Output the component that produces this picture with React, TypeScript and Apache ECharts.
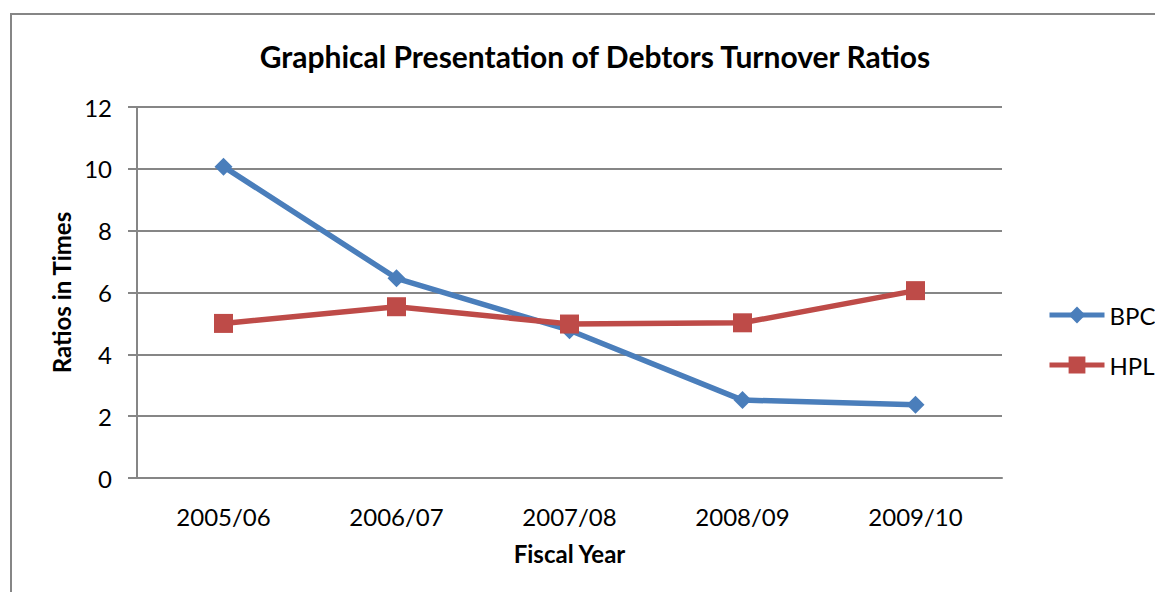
import React, { useEffect, useRef } from "react";
import * as echarts from "echarts";

const categories = ["2005/06", "2006/07", "2007/08", "2008/09", "2009/10"];
const bpc = [10.07, 6.46, 4.78, 2.52, 2.37];
const hpl = [5.0, 5.54, 4.98, 5.02, 6.06];
const yTicks = { min: 0, max: 12, interval: 2 };

const FONT = "Lato, 'Noto Sans', sans-serif";
const GRAY = "#868686";
const BLUE = "#4a7ebb";
const RED = "#be4b48";

export default function App() {
  const ref = useRef<HTMLDivElement>(null);
  useEffect(() => {
    if (!ref.current) return;
    const chart = echarts.init(ref.current, undefined, { renderer: "svg" });
    chart.setOption({
      animation: false,
      backgroundColor: "#ffffff",
      textStyle: { fontFamily: FONT },
      title: {
        text: "Graphical Presentation of Debtors Turnover Ratios",
        left: 590,
        top: 36,
        textAlign: "center",
        textStyle: { fontFamily: FONT, fontWeight: "bold", fontSize: 30, color: "#000" },
      },
      graphic: [
        {
          type: "rect",
          shape: { x: 11, y: 14, width: 1300, height: 800 },
          style: { fill: "none", stroke: GRAY, lineWidth: 2 },
          silent: true,
        },
      ],
      legend: {
        orient: "vertical",
        left: 1042,
        top: 298,
        itemWidth: 55,
        itemHeight: 21,
        itemGap: 26,
        textStyle: { fontFamily: FONT, fontSize: 24, color: "#000" },
        data: [
          { name: "BPC", lineStyle: { width: 5 } },
          { name: "HPL", lineStyle: { width: 5 } },
        ],
      },
      grid: { left: 137, right: 153, top: 107, bottom: 114, containLabel: false },
      xAxis: {
        type: "category",
        data: categories,
        boundaryGap: true,
        axisLine: { show: true, lineStyle: { color: GRAY, width: 2 } },
        axisTick: { show: false },
        axisLabel: { fontFamily: FONT, fontSize: 24, color: "#000", margin: 26 },
        name: "Fiscal Year",
        nameLocation: "middle",
        nameGap: 63,
        nameTextStyle: { fontFamily: FONT, fontWeight: "bold", fontSize: 24, color: "#000" },
      },
      yAxis: {
        type: "value",
        min: yTicks.min,
        max: yTicks.max,
        interval: yTicks.interval,
        axisLine: { show: true, lineStyle: { color: GRAY, width: 2 } },
        axisTick: { show: true, length: 9, lineStyle: { color: GRAY, width: 2 } },
        splitLine: { show: true, lineStyle: { color: GRAY, width: 2 } },
        axisLabel: { fontFamily: FONT, fontSize: 24, color: "#000", margin: 25 },
        name: "Ratios in Times",
        nameLocation: "middle",
        nameGap: 62,
        nameTextStyle: { fontFamily: FONT, fontWeight: "bold", fontSize: 24, color: "#000" },
      },
      series: [
        {
          name: "BPC",
          type: "line",
          data: bpc,
          symbol: "diamond",
          symbolSize: 18,
          lineStyle: { color: BLUE, width: 5.5 },
          itemStyle: { color: BLUE },
        },
        {
          name: "HPL",
          type: "line",
          data: hpl,
          symbol: "rect",
          symbolSize: 19,
          lineStyle: { color: RED, width: 5.5 },
          itemStyle: { color: RED },
        },
      ],
    });
    return () => chart.dispose();
  }, []);
  return (
    <div
      ref={ref}
      style={{ position: "fixed", left: 0, top: 0, width: 1155, height: 592 }}
    />
  );
}
